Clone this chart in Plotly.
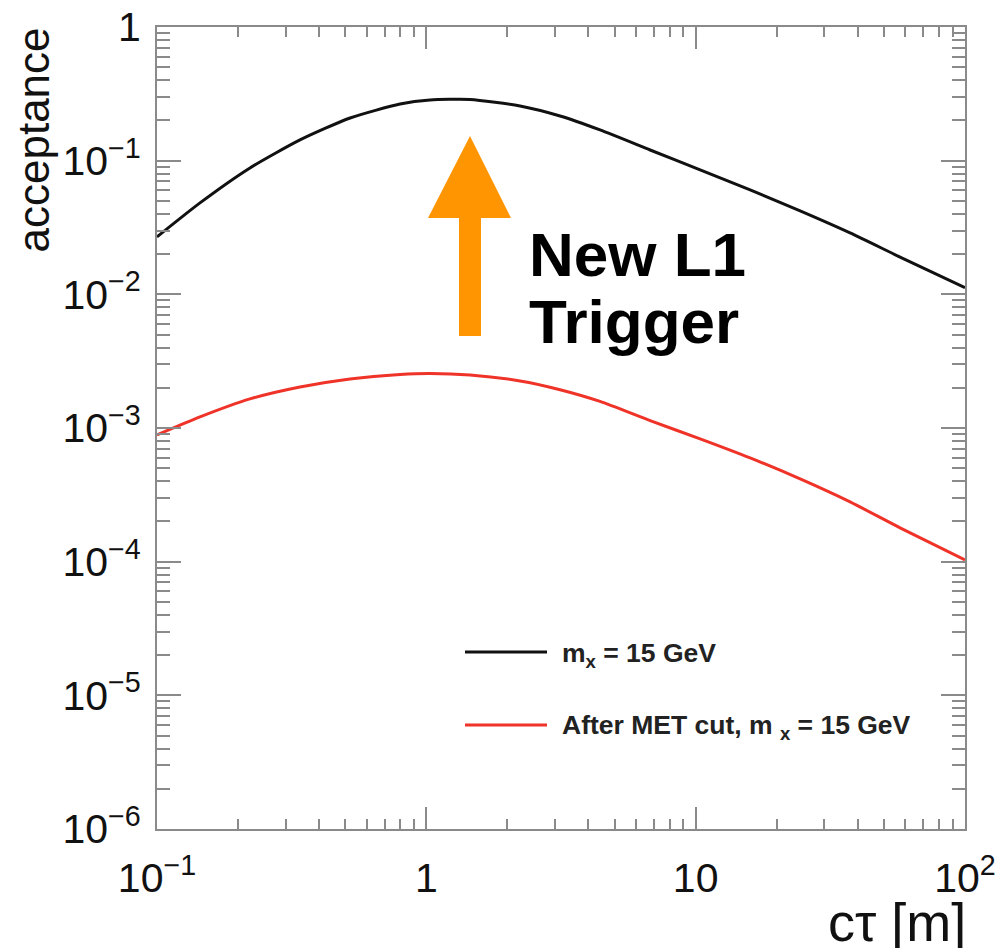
import plotly.graph_objects as go

# ---- data ----
ctau = [0.1, 0.1444, 0.2214, 0.3396, 0.521, 0.7988, 1.032, 1.453, 2.228, 3.137,
        4.416, 6.776, 10.39, 15.93, 24.43, 37.44, 57.4, 100]
acc_black = [0.0269, 0.0483, 0.0882, 0.1429, 0.2086, 0.2654, 0.2844, 0.287, 0.2565, 0.2159,
             0.1697, 0.1202, 0.0852, 0.0604, 0.0421, 0.0288, 0.0190, 0.0112]
acc_red = [8.88e-4, 1.211e-3, 1.651e-3, 2.029e-3, 2.330e-3, 2.518e-3, 2.561e-3, 2.495e-3, 2.250e-3, 1.935e-3,
           1.581e-3, 1.135e-3, 8.29e-4, 5.97e-4, 4.16e-4, 2.80e-4, 1.79e-4, 1.03e-4]

x_tickvals = [0.1, 1, 10, 100]
x_ticktext = ["10<sup>\u22121</sup>", "1", "10", "10<sup>2</sup>"]
y_tickvals = [1e-6, 1e-5, 1e-4, 1e-3, 1e-2, 1e-1, 1]
y_ticktext = ["10<sup>\u22126</sup>", "10<sup>\u22125</sup>", "10<sup>\u22124</sup>",
              "10<sup>\u22123</sup>", "10<sup>\u22122</sup>", "10<sup>\u22121</sup>", "1"]

legend_labels = ["m<sub>x</sub> = 15 GeV", "After MET cut, m <sub>x</sub> = 15 GeV"]

# ---- layout geometry (pixels) ----
W, H = 1001, 948
L, R, T, B = 157, 965, 27, 829
PW, PH = R - L, B - T


def px(xp):
    return (xp - L) / PW


def py(yp):
    return (B - yp) / PH


FONT = "Liberation Sans, Arial, Helvetica, sans-serif"
AXIS_COL = "#8a8a8a"
BLACK = "#111111"
RED = "#EF3328"
ORANGE = "#FF9500"

fig = go.Figure()
fig.add_trace(go.Scatter(x=ctau, y=acc_black, mode="lines",
                         line=dict(color=BLACK, width=3, shape="spline", smoothing=0.6),
                         name=legend_labels[0], showlegend=False))
fig.add_trace(go.Scatter(x=ctau, y=acc_red, mode="lines",
                         line=dict(color=RED, width=3, shape="spline", smoothing=0.6),
                         name=legend_labels[1], showlegend=False))

fig.update_xaxes(type="log", range=[-1, 2], showgrid=False, zeroline=False, automargin=False,
                 showline=True, linecolor=AXIS_COL, linewidth=2, mirror="ticks",
                 ticks="inside", ticklen=22, tickwidth=1.5, tickcolor=AXIS_COL,
                 tickmode="array", tickvals=x_tickvals, ticktext=x_ticktext,
                 tickfont=dict(family=FONT, size=41, color="#111"),
                 ticklabelstandoff=12,
                 minor=dict(ticks="inside", ticklen=10, tickwidth=1.5, tickcolor=AXIS_COL,
                            dtick="D1", showgrid=False))
fig.update_yaxes(type="log", range=[-6, 0], showgrid=False, zeroline=False, automargin=False,
                 showline=True, linecolor=AXIS_COL, linewidth=2, mirror="ticks",
                 ticks="inside", ticklen=24, tickwidth=1.5, tickcolor=AXIS_COL,
                 tickmode="array", tickvals=y_tickvals, ticktext=y_ticktext,
                 tickfont=dict(family=FONT, size=41, color="#111"),
                 ticklabelstandoff=6,
                 minor=dict(ticks="inside", ticklen=13, tickwidth=1.5, tickcolor=AXIS_COL,
                            dtick="D1", showgrid=False))

shapes = []
# orange arrow
arrow_pts = [(470, 136), (511, 218), (481, 218), (481, 336), (459, 336), (459, 218), (428, 218)]
path = "M " + " L ".join(f"{px(a):.5f},{py(b):.5f}" for a, b in arrow_pts) + " Z"
shapes.append(dict(type="path", xref="paper", yref="paper", path=path,
                   fillcolor=ORANGE, line=dict(color=ORANGE, width=0)))
# legend sample lines
for yl, col in [(652, BLACK), (725, RED)]:
    shapes.append(dict(type="line", xref="paper", yref="paper",
                       x0=px(465), x1=px(547), y0=py(yl), y1=py(yl),
                       line=dict(color=col, width=3)))

annotations = [
    dict(text="New L1", xref="paper", yref="paper", x=px(527), y=py(255),
         xanchor="left", yanchor="middle", showarrow=False,
         font=dict(family=FONT, size=62, color="black", weight="bold")),
    dict(text="Trigger", xref="paper", yref="paper", x=px(527), y=py(321),
         xanchor="left", yanchor="middle", showarrow=False,
         font=dict(family=FONT, size=62, color="black", weight="bold")),
    dict(text=legend_labels[0], xref="paper", yref="paper", x=px(560), y=py(655),
         xanchor="left", yanchor="middle", showarrow=False,
         font=dict(family=FONT, size=26.5, color="#222", weight="bold")),
    dict(text=legend_labels[1], xref="paper", yref="paper", x=px(560), y=py(727),
         xanchor="left", yanchor="middle", showarrow=False,
         font=dict(family=FONT, size=26.5, color="#222", weight="bold")),
    dict(text="acceptance", xref="paper", yref="paper", x=px(33), y=py(26),
         xanchor="center", yanchor="top", textangle=-90, showarrow=False,
         font=dict(family=FONT, size=44, color="#111")),
    dict(text="c\u03c4 [m]", xref="paper", yref="paper", x=px(968), y=py(922),
         xanchor="right", yanchor="middle", showarrow=False,
         font=dict(family=FONT, size=54, color="#111")),
]

fig.update_layout(width=W, height=H, margin=dict(l=L, r=W - R, t=T, b=H - B),
                  paper_bgcolor="white", plot_bgcolor="white",
                  shapes=shapes, annotations=annotations, showlegend=False)

fig.write_html("out.html")
